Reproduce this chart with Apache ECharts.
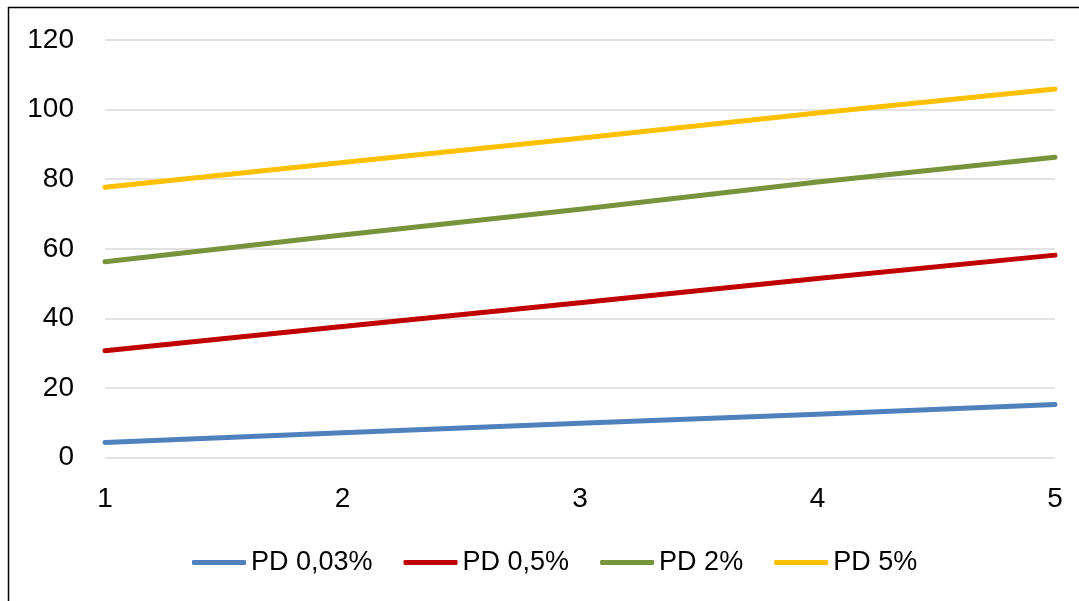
<!DOCTYPE html>
<html>
<head>
<meta charset="utf-8">
<script src="https://cdn.jsdelivr.net/npm/echarts@6/dist/echarts.min.js"></script>
<style>
html,body{margin:0;padding:0;background:#fff;}
#chart{width:1079px;height:601px;}
</style>
</head>
<body>
<div id="chart"></div>
<script>
const categories = ['1', '2', '3', '4', '5'];
const seriesNames = ['PD 0,03%', 'PD 0,5%', 'PD 2%', 'PD 5%'];
const pd003 = [4.4, 7.2, 9.9, 12.5, 15.3];
const pd05 = [30.7, 37.7, 44.5, 51.5, 58.2];
const pd2 = [56.3, 64.0, 71.4, 79.2, 86.3];
const pd5 = [77.7, 84.8, 91.8, 99.0, 105.9];
const yTicks = { min: 0, max: 120, interval: 20 };

const colors = ['#4f81bd', '#c00000', '#77933c', '#ffc000'];
const values = [pd003, pd05, pd2, pd5];
const FONT = '"Liberation Sans", Arial, sans-serif';

const chart = echarts.init(document.getElementById('chart'), null, { renderer: 'canvas' });
chart.setOption({
  animation: false,
  backgroundColor: '#ffffff',
  color: colors,
  graphic: [{
    type: 'polyline',
    silent: true,
    shape: { points: [[8.5, 610], [8.5, 7.5], [1090, 7.5]] },
    style: { stroke: '#000', lineWidth: 1.5, fill: null }
  }],
  grid: { left: 105, right: 24, top: 40, bottom: 143.3, containLabel: false },
  legend: {
    left: 187,
    top: 544,
    itemWidth: 54,
    itemHeight: 5,
    itemGap: 31,
    icon: 'roundRect',
    textStyle: { fontFamily: FONT, fontSize: 27, color: '#000' },
    data: seriesNames
  },
  xAxis: {
    type: 'category',
    data: categories,
    boundaryGap: false,
    axisLine: { show: false },
    axisTick: { show: false },
    splitLine: { show: false },
    axisLabel: { fontFamily: FONT, fontSize: 28, color: '#000', margin: 28 }
  },
  yAxis: {
    type: 'value',
    min: yTicks.min,
    max: yTicks.max,
    interval: yTicks.interval,
    axisLine: { show: false },
    axisTick: { show: false },
    splitLine: { lineStyle: { color: '#d9d9d9', width: 1.5 } },
    axisLabel: { fontFamily: FONT, fontSize: 28, color: '#000', margin: 31 }
  },
  series: seriesNames.map((n, i) => ({
    name: n,
    type: 'line',
    data: values[i],
    showSymbol: false,
    symbol: 'none',
    lineStyle: { width: 5, color: colors[i], cap: 'round', join: 'round' },
    itemStyle: { color: colors[i] }
  }))
});
</script>
</body>
</html>
